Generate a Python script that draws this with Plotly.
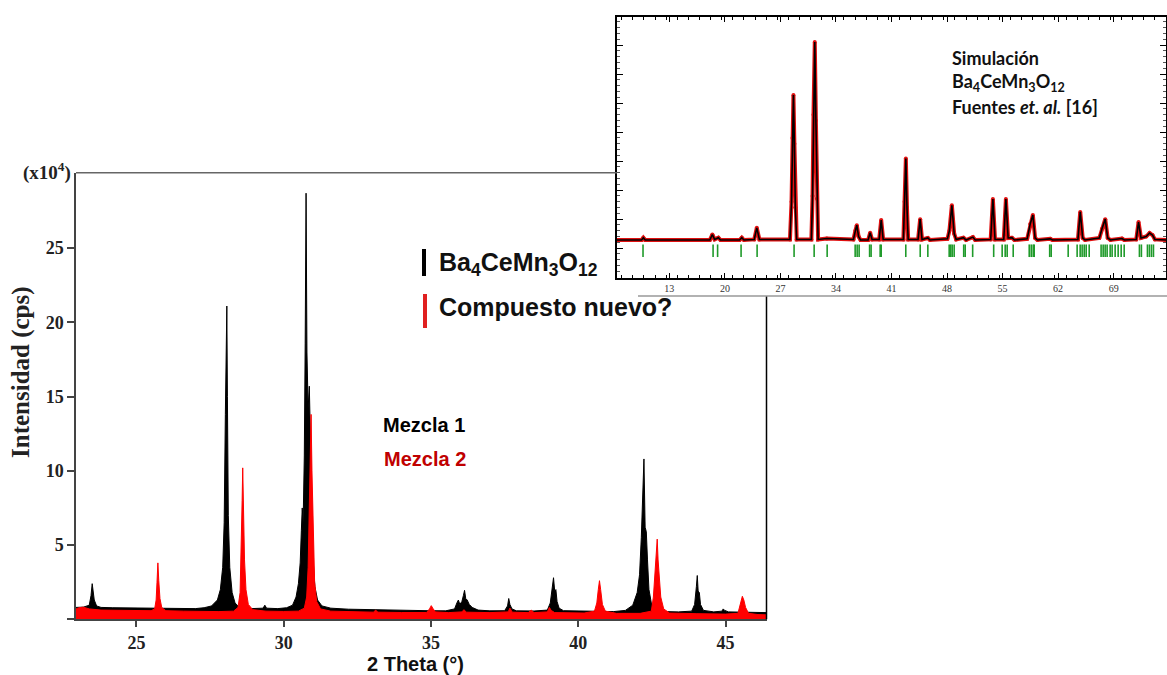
import plotly.graph_objects as go

W, H = 1167, 675

# ---------------- main chart data (2 theta in degrees, intensity x10^4 cps)
m1_x = [22.95, 23.20, 23.40, 23.46, 23.50, 23.53, 23.57, 23.65, 23.80, 24.20, 24.80, 25.40, 26.00, 26.60,
        27.00, 27.30, 27.55, 27.75, 27.85, 27.93, 27.98, 28.02, 28.05, 28.07, 28.09, 28.12, 28.17, 28.25,
        28.35, 28.50, 28.90, 29.30, 29.36, 29.42, 29.80, 30.10, 30.30, 30.42, 30.50, 30.56, 30.60, 30.63,
        30.66, 30.70, 30.73, 30.76, 30.79, 30.83, 30.87, 30.91, 30.95, 31.00, 31.06, 31.15, 31.30, 31.60,
        32.20, 32.80, 33.50, 34.20, 34.90, 35.50, 35.80, 35.88, 35.93, 35.98, 36.05, 36.10, 36.14, 36.18,
        36.23, 36.30, 36.40, 36.60, 37.00, 37.50, 37.60, 37.64, 37.68, 37.75, 37.90, 38.50, 38.95, 39.05,
        39.12, 39.16, 39.20, 39.24, 39.28, 39.35, 39.50, 40.00, 40.60, 41.20, 41.60, 41.85, 42.00, 42.08,
        42.14, 42.19, 42.23, 42.27, 42.31, 42.35, 42.40, 42.48, 42.60, 42.90, 43.40, 43.85, 43.95, 44.01,
        44.04, 44.07, 44.11, 44.15, 44.25, 44.60, 44.88, 44.92, 44.97, 45.10, 45.60, 46.00, 46.39]
m1_y = [0.80, 0.82, 0.95, 1.60, 2.40, 1.90, 1.30, 0.90, 0.80, 0.78, 0.76, 0.74, 0.72, 0.70,
        0.72, 0.78, 0.90, 1.30, 2.00, 3.50, 6.50, 13.80, 19.50, 21.10, 15.00, 7.00, 3.50, 1.80,
        1.10, 0.80, 0.72, 0.75, 0.95, 0.75, 0.72, 0.78, 0.95, 1.50, 2.40, 3.80, 6.00, 7.50,
        6.50, 11.00, 18.60, 28.70, 18.00, 14.20, 15.70, 12.00, 7.00, 4.00, 2.20, 1.30, 0.90, 0.75,
        0.68, 0.65, 0.62, 0.60, 0.58, 0.57, 0.70, 1.10, 1.30, 1.00, 1.20, 1.60, 1.95, 1.40,
        1.30, 1.00, 0.80, 0.62, 0.57, 0.58, 0.90, 1.40, 1.00, 0.70, 0.57, 0.56, 0.62, 1.10,
        2.10, 2.80, 1.90, 2.00, 1.20, 0.75, 0.58, 0.55, 0.52, 0.52, 0.60, 0.95, 1.80, 3.00,
        5.50, 9.00, 10.80, 6.20, 5.90, 4.00, 2.00, 1.10, 0.70, 0.52, 0.50, 0.55, 1.00, 2.20,
        2.95, 1.90, 1.80, 1.00, 0.60, 0.50, 0.55, 0.70, 0.60, 0.50, 0.47, 0.46, 0.45]

m2_x = [22.95, 23.05, 23.20, 23.40, 23.80, 24.40, 25.00, 25.50, 25.62, 25.67, 25.70, 25.73, 25.76, 25.80,
        25.86, 26.00, 26.60, 27.20, 27.80, 28.30, 28.45, 28.52, 28.56, 28.59, 28.61, 28.64, 28.67, 28.72,
        28.80, 28.95, 29.40, 30.00, 30.50, 30.70, 30.78, 30.83, 30.87, 30.90, 30.93, 30.96, 31.00, 31.05,
        31.12, 31.25, 31.60, 32.40, 33.05, 33.12, 33.20, 34.00, 34.85, 34.95, 35.01, 35.06, 35.15, 35.60,
        36.05, 36.12, 36.20, 37.00, 37.62, 37.68, 37.76, 38.30, 38.40, 38.50, 38.95, 39.02, 39.08, 39.20,
        40.20, 40.55, 40.63, 40.68, 40.72, 40.76, 40.82, 40.92, 41.30, 42.10, 42.48, 42.55, 42.60, 42.64,
        42.68, 42.71, 42.75, 42.80, 42.90, 43.10, 44.00, 45.00, 45.42, 45.48, 45.53, 45.57, 45.62, 45.68,
        45.78, 46.10, 46.39]
m2_y = [0.70, 0.78, 0.82, 0.70, 0.62, 0.60, 0.58, 0.58, 0.70, 1.30, 2.50, 3.80, 2.60, 1.40,
        0.80, 0.58, 0.55, 0.53, 0.52, 0.55, 0.80, 1.80, 4.50, 8.00, 10.20, 7.00, 4.00, 2.00,
        1.00, 0.65, 0.55, 0.53, 0.55, 0.75, 1.50, 3.50, 7.00, 11.00, 13.80, 10.00, 5.50, 2.50,
        1.20, 0.70, 0.55, 0.50, 0.48, 0.62, 0.48, 0.46, 0.46, 0.70, 0.92, 0.75, 0.50, 0.45,
        0.50, 0.65, 0.48, 0.45, 0.50, 0.75, 0.48, 0.45, 0.62, 0.45, 0.50, 0.80, 0.60, 0.45,
        0.42, 0.55, 1.10, 2.00, 2.60, 2.00, 1.00, 0.55, 0.40, 0.40, 0.55, 1.50, 2.80, 4.20,
        5.40, 4.00, 3.00, 1.50, 0.70, 0.42, 0.38, 0.35, 0.40, 0.80, 1.30, 1.55, 1.30, 0.80,
        0.40, 0.32, 0.30]

x_ticks = [25, 30, 35, 40, 45]
y_ticks = [0, 5, 10, 15, 20, 25]
y_ticktext = ["", "5", "10", "15", "20", "25"]

# ---------------- inset data (simulated pattern, arbitrary units)
sim_x = [6.4, 9.50, 9.72, 9.95, 18.10, 18.42, 18.70, 19.18, 19.45, 21.85, 22.13, 22.40, 23.70, 24.02,
         24.35, 28.20, 28.40, 28.52, 28.64, 28.76, 28.88, 29.05, 30.90, 31.05, 31.17, 31.33, 31.47,
         31.60, 31.75, 32.85, 36.20, 36.45, 36.63, 36.85, 37.10, 38.05, 38.31, 38.55, 39.45, 39.70,
         39.95, 42.50, 42.65, 42.81, 42.95, 43.10, 44.35, 44.61, 44.85, 45.58, 45.85, 48.05, 48.30,
         48.61, 48.90, 49.15, 50.07, 50.40, 51.26, 51.55, 53.50, 53.78, 54.05, 55.15, 55.42, 55.70,
         56.18, 56.50, 58.10, 58.48, 58.82, 59.10, 59.40, 61.00, 61.30, 64.50, 64.79, 65.10, 65.40,
         67.20, 67.52, 67.94, 68.25, 68.60, 70.05, 70.35, 71.85, 72.14, 72.45, 73.10, 73.53, 73.90,
         74.20, 75.60]
sim_y = [0.28, 0.28, 0.36, 0.28, 0.28, 0.47, 0.30, 0.36, 0.28, 0.28, 0.36, 0.28, 0.30, 0.70,
         0.30, 0.30, 1.60, 3.80, 5.28, 3.60, 1.40, 0.30, 0.30, 1.80, 4.60, 7.11, 4.40,
         1.70, 0.30, 0.33, 0.30, 0.60, 0.79, 0.40, 0.28, 0.28, 0.53, 0.30, 0.30, 0.97,
         0.30, 0.30, 1.60, 3.09, 1.40, 0.30, 0.30, 1.00, 0.30, 0.35, 0.28, 0.32, 0.60,
         1.48, 0.50, 0.30, 0.36, 0.28, 0.38, 0.28, 0.30, 1.69, 0.30, 0.30, 1.69, 0.35,
         0.36, 0.28, 0.32, 0.83, 1.14, 0.35, 0.28, 0.32, 0.28, 0.30, 1.25, 0.35, 0.28,
         0.35, 0.66, 1.00, 0.35, 0.28, 0.33, 0.28, 0.30, 0.90, 0.35, 0.40, 0.52, 0.45,
         0.30, 0.28]

bragg_x = [9.68, 18.51, 19.08, 22.04, 24.06, 28.72, 31.25, 32.89, 36.42, 36.67, 36.92, 38.24, 38.43,
           39.57, 39.70, 42.80, 44.62, 45.58, 48.27, 48.46, 48.65, 48.90, 50.10, 50.29, 51.23, 53.88,
           54.95, 55.33, 55.58, 56.34, 58.36, 58.61, 58.86, 58.99, 60.94, 61.13, 63.27, 64.40, 64.78,
           65.03, 65.29, 65.54, 65.92, 67.42, 67.68, 67.93, 68.18, 68.56, 68.81, 69.19, 69.57, 69.95,
           70.33, 72.25, 72.50, 73.26, 73.51, 73.77, 74.02]
bragg_level = -0.09

inset_x_ticks = [13, 20, 27, 34, 41, 48, 55, 62, 69]


def px(x):
    return x / W


def py(y):
    return 1 - y / H


fig = go.Figure()

fig.add_trace(go.Scatter(x=m1_x, y=m1_y, mode="lines", fill="tozeroy", fillcolor="#000000",
                         line=dict(color="#000000", width=1), xaxis="x", yaxis="y",
                         name="Mezcla 1", showlegend=False))
fig.add_trace(go.Scatter(x=m2_x, y=m2_y, mode="lines", fill="tozeroy", fillcolor="#ff0000",
                         line=dict(color="#ff0000", width=1), xaxis="x", yaxis="y",
                         name="Mezcla 2", showlegend=False))

# inset traces
fig.add_trace(go.Scatter(x=sim_x, y=sim_y, mode="lines+markers", xaxis="x2", yaxis="y2",
                         line=dict(color="#e01010", width=4),
                         marker=dict(color="#e01010", size=4), showlegend=False))
fig.add_trace(go.Scatter(x=sim_x, y=sim_y, mode="lines", xaxis="x2", yaxis="y2",
                         line=dict(color="#000000", width=1.6), showlegend=False))
fig.add_trace(go.Scatter(x=bragg_x, y=[bragg_level] * len(bragg_x), mode="markers",
                         xaxis="x2", yaxis="y2",
                         marker=dict(symbol="line-ns", size=9,
                                     line=dict(color="#1f9a2a", width=1.6)),
                         showlegend=False))

serif = "Liberation Serif, Times New Roman, serif"
arial = "Liberation Sans, Arial, sans-serif"
calib = "Lato, Open Sans, sans-serif"

fig.update_layout(
    width=W, height=H,
    margin=dict(l=0, r=0, t=0, b=0),
    paper_bgcolor="white", plot_bgcolor="white",
    showlegend=False,
    xaxis=dict(domain=[px(76), px(766.5)], range=[22.95, 46.39], tickvals=x_ticks,
               ticks="outside", ticklen=6, tickwidth=1.5, tickcolor="#444",
               showline=True, linecolor="#444", linewidth=1.5, showgrid=False, zeroline=False,
               tickfont=dict(family=serif, size=18, color="#222", weight="bold"), anchor="y"),
    yaxis=dict(domain=[py(619.3), py(172.7)], range=[0, 30.08], tickvals=y_ticks,
               ticktext=y_ticktext, ticks="outside", ticklen=7, tickwidth=1.5, tickcolor="#444",
               showline=True, linecolor="#444", linewidth=1.5, showgrid=False, zeroline=False,
               tickfont=dict(family=serif, size=18, color="#222", weight="bold"), anchor="x"),
    xaxis2=dict(domain=[px(617), px(1166)], range=[6.4, 75.6], tickvals=inset_x_ticks,
                ticks="inside", ticklen=5, tickwidth=1.2, tickcolor="#000",
                minor=dict(dtick=1.4, ticks="inside", ticklen=3, tickcolor="#000"),
                showline=True, linecolor="#000", linewidth=2, mirror="allticks",
                showgrid=False, zeroline=False,
                tickfont=dict(family=serif, size=10, color="#333"), anchor="y2"),
    yaxis2=dict(domain=[py(278), py(17)], range=[-1.03, 7.97], dtick=1, tick0=0,
                ticks="inside", ticklen=6, tickwidth=1.2, tickcolor="#000",
                minor=dict(dtick=0.2, ticks="inside", ticklen=3, tickcolor="#555"),
                showline=True, linecolor="#000", linewidth=2, mirror="allticks",
                showticklabels=False, showgrid=False, zeroline=False, anchor="x2"),
)

shapes = [
    # main frame: top and right edges stop where the inset begins
    dict(type="line", xref="paper", yref="paper", x0=px(76), x1=px(617), y0=py(172.7), y1=py(172.7),
         line=dict(color="#666", width=1.5)),
    dict(type="line", xref="paper", yref="paper", x0=px(766.5), x1=px(766.5), y0=py(619.3), y1=py(296),
         line=dict(color="#000", width=1.5)),
    # lower edge of the pasted inset
    dict(type="line", xref="paper", yref="paper", x0=px(638), x1=px(1167), y0=py(296), y1=py(296),
         line=dict(color="#999", width=1.5)),
    # legend bars
    dict(type="line", xref="paper", yref="paper", x0=px(424), x1=px(424), y0=py(249), y1=py(276),
         line=dict(color="#000", width=4)),
    dict(type="line", xref="paper", yref="paper", x0=px(425), x1=px(425), y0=py(294), y1=py(328),
         line=dict(color="#e02020", width=4)),
]
fig.update_layout(shapes=shapes)

ann = [
    dict(x=px(21), y=py(372), text="<b>Intensidad (cps)</b>", textangle=-90,
         font=dict(family=serif, size=25, color="#222")),
    dict(x=px(47), y=py(171), text="<b>(x10<sup>4</sup>)</b>",
         font=dict(family=serif, size=19, color="#222")),
    dict(x=px(415), y=py(664), text="<b>2 Theta (°)</b>",
         font=dict(family=arial, size=20, color="#111")),
    dict(x=px(437), y=py(264), xanchor="left", text="<b>Ba<sub>4</sub>CeMn<sub>3</sub>O<sub>12</sub></b>",
         font=dict(family=arial, size=25, color="#111")),
    dict(x=px(437), y=py(307), xanchor="left", text="<b>Compuesto nuevo?</b>",
         font=dict(family=arial, size=25, color="#111")),
    dict(x=px(381), y=py(425), xanchor="left", text="<b>Mezcla 1</b>",
         font=dict(family=arial, size=20, color="#000")),
    dict(x=px(382), y=py(459), xanchor="left", text="<b>Mezcla 2</b>",
         font=dict(family=arial, size=20, color="#c00000")),
    dict(x=px(950), y=py(58), xanchor="left", text="<b>Simulación</b>",
         font=dict(family=calib, size=18, color="#111")),
    dict(x=px(950), y=py(83), xanchor="left",
         text="<b>Ba<sub>4</sub>CeMn<sub>3</sub>O<sub>12</sub></b>",
         font=dict(family=calib, size=18, color="#111")),
    dict(x=px(950), y=py(107), xanchor="left", text="<b>Fuentes <i>et. al.</i> [16]</b>",
         font=dict(family=calib, size=18, color="#111")),
]
for a in ann:
    a.setdefault("xref", "paper")
    a.setdefault("yref", "paper")
    a.setdefault("showarrow", False)
    a.setdefault("xanchor", "center")
    a.setdefault("yanchor", "middle")
fig.update_layout(annotations=ann)

fig.write_html("out.html")
